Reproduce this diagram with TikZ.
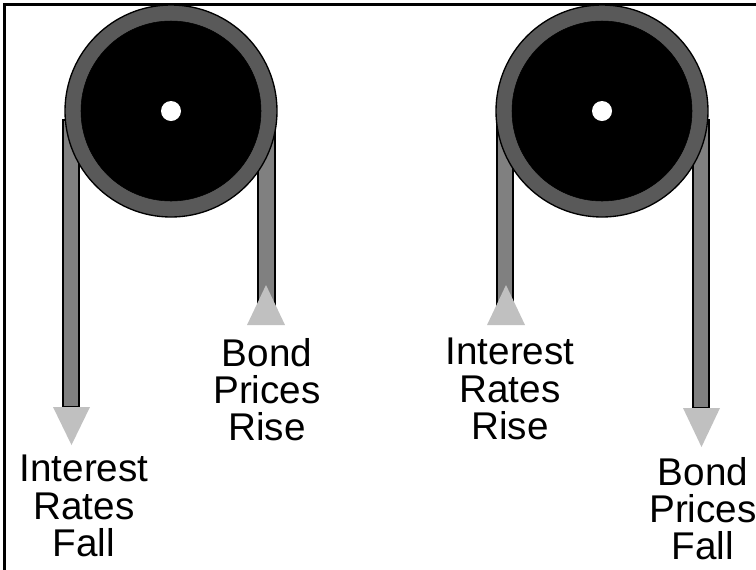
\documentclass[tikz,border=0pt]{standalone}
\usepackage{fontspec}
\setmainfont{Liberation Sans}
\usetikzlibrary{positioning}
\definecolor{ropegray}{HTML}{808080}
\definecolor{rimgray} {HTML}{595959}
\definecolor{tipgray} {HTML}{C0C0C0}

\begin{document}
\begin{tikzpicture}[
  x=0.75pt, y=-0.75pt,
  rim/.style={circle,draw=black,fill=rimgray,line width=1pt,
              minimum size=159pt,inner sep=0pt,outer sep=0pt},
  wheel/.style={circle,draw=black,fill=black,minimum size=135pt,inner sep=0pt},
  hub/.style={circle,fill=white,minimum size=15pt,inner sep=0pt},
  rope/.style={draw=black,fill=ropegray,line width=1.1pt},
  tip/.style={fill=tipgray},
  caption/.style={font=\fontsize{29}{28}\selectfont,align=center,
                  inner sep=0pt,anchor=north}
]
\useasboundingbox (0,0) rectangle (756,569);

%% frame (only top and left edges show)
\begin{scope}
  \clip (0,0) rectangle (756,569);
  \draw[line width=1.9pt] (4.7,600) |- (800,4.7);
\end{scope}

%% ropes first, wheels drawn over them
\draw[rope] (63,120)  rectangle (79,407);
\draw[rope] (258,120) rectangle (275,310);
\draw[rope] (497,120) rectangle (513,310);
\draw[rope] (693,120) rectangle (709,408);

%% left pulley
\node[rim]   (rimA)   at (171,111) {};
\node[wheel] (wheelA) at (rimA.center) {};
\node[hub]   (hubA)   at (rimA.center) {};

%% right pulley
\node[rim]   (rimB)   at (602,111) {};
\node[wheel] (wheelB) at (rimB.center) {};
\node[hub]   (hubB)   at (rimB.center) {};

%% arrow heads
\fill[tip] (53,407)  -- (90,407)  -- (71.5,445) -- cycle;
\fill[tip] (247,325) -- (285,325) -- (266,285)  -- cycle;
\fill[tip] (487,325) -- (525,325) -- (506,285)  -- cycle;
\fill[tip] (683,408) -- (720,408) -- (701.5,447) -- cycle;

%% captions
\node[caption] (irfall) at (84,455)  {Interest\\Rates\\Fall};
\node[caption] (bprise) at (267,338) {Bond\\Prices\\Rise};
\node[caption] (irrise) at (510,338) {Interest\\Rates\\Rise};
\node[caption] (bpfall) at (703,457) {Bond\\Prices\\Fall};

\end{tikzpicture}
\end{document}
